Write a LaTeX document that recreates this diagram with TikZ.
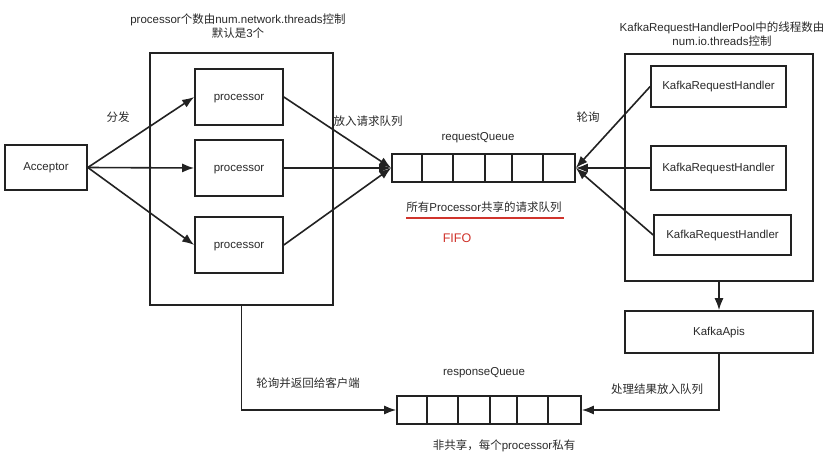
\documentclass[tikz,border=0pt]{standalone}
\usepackage{fontspec}
\setmainfont{Liberation Sans}
\newfontfamily\cjk{Noto Sans CJK SC}
\usetikzlibrary{arrows.meta}
\definecolor{ink}{HTML}{222222}
\definecolor{txt}{HTML}{2A2A2A}
\definecolor{redmark}{HTML}{D0342C}
\begin{document}
\begin{tikzpicture}[x=1pt,y=-1pt,
  box/.style={draw=ink, line width=1.6pt, inner sep=0pt, font=\fontsize{11.5}{13}\selectfont, text=txt, text height=8pt, text depth=1.5pt},
  lbl/.style={font=\fontsize{11.5}{14}\selectfont, text=txt, inner sep=0pt, align=center},
  arr/.style={draw=ink, line width=1.6pt, -{Latex[length=12pt,width=9pt]}},
  qline/.style={draw=ink, line width=1.6pt}
]
\useasboundingbox[fill=white] (0,0) rectangle (830,454);

% left side
\node[box, minimum width=82pt, minimum height=45pt] (acc) at (46,167.5) {Acceptor};
\node[box, minimum width=183pt, minimum height=252pt] (lb) at (241.5,179) {};
\node[box, minimum width=88pt, minimum height=56pt] (p1) at (239,97) {processor};
\node[box, minimum width=88pt, minimum height=56pt] (p2) at (239,168) {processor};
\node[box, minimum width=88pt, minimum height=56pt] (p3) at (239,245) {processor};
\node[lbl] (ltitle) at (238,26) {processor{\cjk 个数由}num.network.threads{\cjk 控制}\\{\cjk 默认是}3{\cjk 个}};
\node[lbl] (fenfa) at (118,117) {\cjk 分发};
\node[lbl] (fangru) at (368,121) {\cjk 放入请求队列};

% request queue
\node[box, minimum width=183pt, minimum height=28pt] (rq) at (483.5,168) {};
\foreach \d in {31,62,94,121,152}
  \draw[qline] ([xshift=\d pt]rq.north west) -- ([xshift=\d pt]rq.south west);
\node[lbl] (rqlbl) at (478,138) {requestQueue};
\node[lbl] (shared) at (484,207) {{\cjk 所有}Processor{\cjk 共享的请求队列}};
\coordinate (ul1) at (406,218);
\coordinate (ul2) at (564,218);
\draw[redmark, line width=1.8pt] (ul1) -- (ul2);
\node[lbl, text=redmark, font=\fontsize{12.5}{14}\selectfont] (fifo) at (457,238) {FIFO};

% right side
\node[box, minimum width=188pt, minimum height=227pt] (rb) at (719,167.5) {};
\node[box, minimum width=135pt, minimum height=41pt] (h1) at (718.5,86.5) {KafkaRequestHandler};
\node[box, minimum width=135pt, minimum height=44pt] (h2) at (718.5,168) {KafkaRequestHandler};
\node[box, minimum width=137pt, minimum height=40pt] (h3) at (722.5,235) {KafkaRequestHandler};
\node[lbl] (rtitle) at (722,34) {KafkaRequestHandlerPool{\cjk 中的线程数由}\\num.io.threads{\cjk 控制}};
\node[lbl] (lunxun) at (588,117) {\cjk 轮询};
\node[box, minimum width=188pt, minimum height=42pt] (ka) at (719,332) {KafkaApis};

% response queue
\node[box, minimum width=184pt, minimum height=28pt] (resp) at (489,410) {};
\foreach \d in {31,62,94,121,152}
  \draw[qline] ([xshift=\d pt]resp.north west) -- ([xshift=\d pt]resp.south west);
\node[lbl] (resplbl) at (484,373) {responseQueue};
\node[lbl] (private) at (504,446) {{\cjk 非共享，每个}processor{\cjk 私有}};
\node[lbl] (ret) at (308,383) {\cjk 轮询并返回给客户端};
\node[lbl] (proc) at (657,389) {\cjk 处理结果放入队列};

% connectors
\draw[arr] (acc.east) -- (p1.west);
\draw[arr] (acc.east) -- (p2.west);
\draw[arr] (acc.east) -- (p3.west);
\draw[arr] (p1.east) -- (rq.west);
\draw[arr] (p2.east) -- (rq.west);
\draw[arr] (p3.east) -- (rq.west);
\draw[arr] (h1.west) -- (rq.east);
\draw[arr] (h2.west) -- (rq.east);
\draw[arr] (h3.west) -- (rq.east);
\draw[arr] (rb.south) -- (ka.north);
\draw[arr] (ka.south) |- (resp.east);
\draw[arr] (lb.south) |- (resp.west);
\end{tikzpicture}
\end{document}
